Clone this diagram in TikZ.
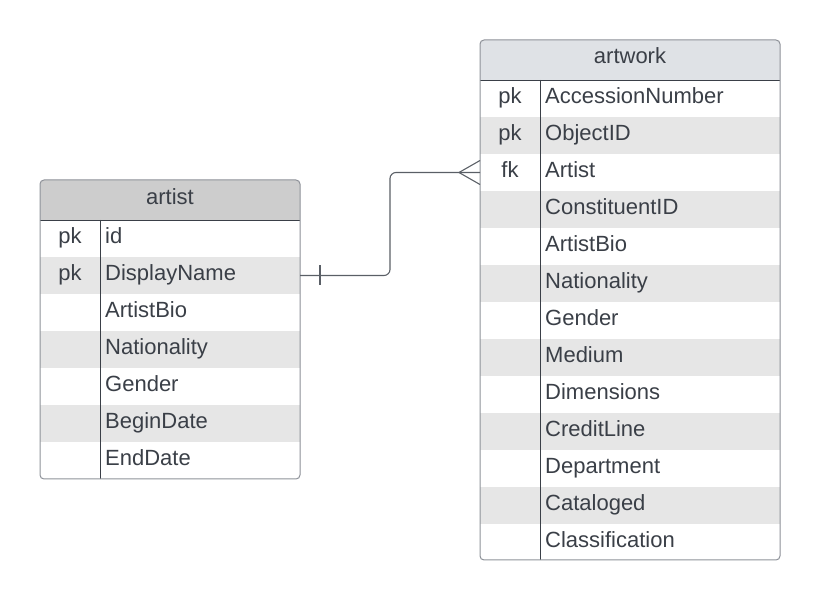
\documentclass[tikz,border=0pt]{standalone}
\usepackage{fontspec}
\setmainfont{Liberation Sans}
\definecolor{txt}{HTML}{3A3F47}
\definecolor{bordc}{HTML}{8E9299}
\definecolor{divc}{HTML}{3A3F47}
\definecolor{stripe}{HTML}{E6E6E6}
\definecolor{hdrA}{HTML}{CDCDCD}
\definecolor{hdrB}{HTML}{DFE2E6}
\definecolor{connc}{HTML}{5A5F66}
\begin{document}
\begin{tikzpicture}[x=1pt,y=-1pt,
  tblbg/.style={rounded corners=4pt, inner sep=0pt, outer sep=0pt, anchor=north west},
  tblborder/.style={tblbg, draw=bordc, line width=1pt},
  rowbox/.style={inner sep=0pt, outer sep=0pt, minimum height=37pt, anchor=north west},
  keytxt/.style={inner sep=0pt, anchor=base, text=txt, font=\fontsize{22}{26}\selectfont},
  fieldtxt/.style={inner sep=0pt, anchor=base west, text=txt, font=\fontsize{22}{26}\selectfont},
  hdrtxt/.style={inner sep=0pt, anchor=base, text=txt, font=\fontsize{22}{26}\selectfont},
  divline/.style={draw=divc, line width=0.9pt},
  conn/.style={draw=connc, line width=1.1pt}]
\useasboundingbox (0,0) rectangle (820,601);

% ---------------- artist table ----------------
\node[tblbg, fill=hdrA, minimum width=260pt, minimum height=299pt] (artistbg) at (40,180) {};
\foreach [count=\i] \k/\f in {pk/id, pk/DisplayName, /ArtistBio, /Nationality, /Gender, /BeginDate, /EndDate}{
  \ifodd\i\def\rc{white}\else\def\rc{stripe}\fi
  \node[rowbox, fill=\rc, minimum width=260pt] (a\i) at ({40},{220+37*(\i-1)}) {};
  \node[keytxt] (ak\i) at ({70},{220+37*(\i-1)+24}) {\k};
  \node[fieldtxt] (af\i) at ({105},{220+37*(\i-1)+24}) {\f};
}
\node[hdrtxt] (artisttitle) at (170,205) {artist};
\draw[divline] (artistbg.north west |- a1.north) -- (artistbg.north east |- a1.north);
\draw[divline] (a1.north west) ++(60,0) coordinate (adtop) -- (adtop |- artistbg.south);
\node[tblborder, minimum width=260pt, minimum height=299pt] (artist) at (40,180) {};

% ---------------- artwork table ----------------
\node[tblbg, fill=hdrB, minimum width=300pt, minimum height=520pt] (artworkbg) at (480,40) {};
\foreach [count=\i] \k/\f in {pk/AccessionNumber, pk/ObjectID, fk/Artist, /ConstituentID, /ArtistBio, /Nationality, /Gender, /Medium, /Dimensions, /CreditLine, /Department, /Cataloged, /Classification}{
  \ifodd\i\def\rc{white}\else\def\rc{stripe}\fi
  \ifnum\i=13 \def\rh{36pt}\else\def\rh{37pt}\fi
  \node[rowbox, fill=\rc, minimum width=300pt, minimum height=\rh] (w\i) at ({480},{80+37*(\i-1)}) {};
  \node[keytxt] (wk\i) at ({510},{80+37*(\i-1)+24}) {\k};
  \node[fieldtxt] (wf\i) at ({545},{80+37*(\i-1)+24}) {\f};
}
\node[hdrtxt] (artworktitle) at (630,64) {artwork};
\draw[divline] (artworkbg.north west |- w1.north) -- (artworkbg.north east |- w1.north);
\draw[divline] (w1.north west) ++(60,0) coordinate (wdtop) -- (wdtop |- artworkbg.south);
\node[tblborder, minimum width=300pt, minimum height=520pt] (artwork) at (480,40) {};

% ---------------- connector ----------------
\coordinate (jog) at (390,0);
\draw[conn, rounded corners=6pt] (a2.east) -- (jog |- a2.east) -- (jog |- w3.west) -- (w3.west);
% one mark at artist end
\draw[conn] ([xshift=20pt]a2.east) ++(0,-10) -- ++(0,20);
% crow's foot at artwork end
\draw[conn] ([xshift=-21pt]w3.west) -- ++(21,-12);
\draw[conn] ([xshift=-21pt]w3.west) -- ++(21,12);
\end{tikzpicture}
\end{document}
